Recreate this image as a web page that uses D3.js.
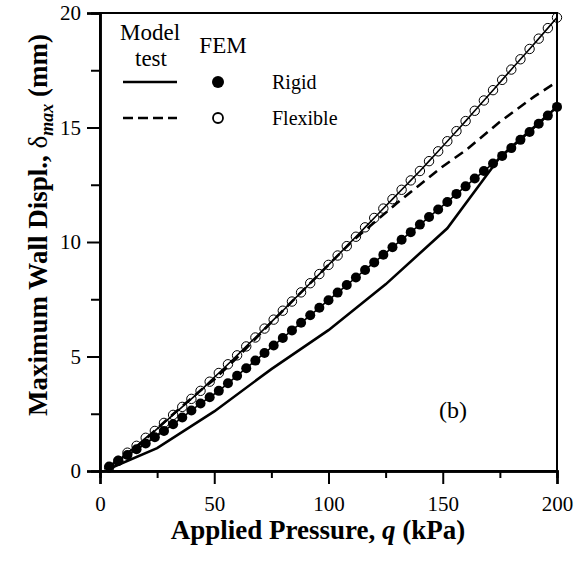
<!DOCTYPE html>
<html><head><meta charset="utf-8">
<script src="https://cdn.jsdelivr.net/npm/d3@7"></script>
<style>body{margin:0;background:#fff}svg{display:block}text{font-family:"Liberation Serif","Times New Roman",serif;fill:#000}</style>
</head><body><svg id="c" width="578" height="562"></svg>
<script>
// FEM pressure steps (kPa)
const femQ = [4,8,12,16,20,24,28,32,36,40,44,48,52,56,60,64,68,72,76,80,84,88,92,96,100,104,108,112,116,120,124,128,132,136,140,144,148,152,156,160,164,168,172,176,180,184,188,192,196,200];
const femFlexible = [0.15,0.45,0.8,1.1,1.45,1.75,2.1,2.45,2.8,3.15,3.5,3.9,4.28,4.66,5.05,5.44,5.83,6.22,6.61,7.0,7.4,7.8,8.2,8.6,9.0,9.41,9.82,10.23,10.64,11.05,11.46,11.87,12.28,12.69,13.1,13.53,13.96,14.4,14.84,15.28,15.73,16.18,16.63,17.08,17.53,17.98,18.43,18.88,19.34,19.8];
const femRigid = [0.2,0.45,0.7,0.95,1.2,1.47,1.75,2.04,2.34,2.64,2.95,3.22,3.5,3.83,4.16,4.49,4.82,5.15,5.48,5.81,6.14,6.47,6.8,7.13,7.46,7.79,8.12,8.45,8.78,9.11,9.44,9.77,10.1,10.43,10.76,11.09,11.42,11.75,12.1,12.43,12.77,13.1,13.43,13.76,14.1,14.46,14.8,15.16,15.52,15.9];
// Model test
const modelRigidQ = [4,25,50,75,100,125,152,175,200];
const modelRigid  = [0.1,1.0,2.6,4.45,6.15,8.15,10.6,13.7,15.9];
const modelFlexQ = [4,15,25,35,45,50,60,75,100,110,120,130,140,150,160,175,190,200];
const modelFlex  = [0.2,0.95,1.85,2.75,3.6,4.0,4.95,6.5,9.0,10.0,10.85,11.7,12.5,13.3,14.0,15.25,16.35,17.0];
const xMajor = [0,50,100,150,200];
const xMinor = [25,75,125,175];
const yMajor = [0,5,10,15,20];
const yMinor = [2.5,7.5,12.5,17.5];

const svg = d3.select("#c");
const x = d3.scaleLinear().domain([0,200]).range([100,557]);
const y = d3.scaleLinear().domain([0,20]).range([471,13]);

// frame
svg.append("rect").attr("x",100).attr("y",13).attr("width",457).attr("height",458)
  .attr("fill","none").attr("stroke","#000").attr("stroke-width",2);

// x axis
const gx = svg.append("g").attr("transform","translate(0,471)");
gx.call(d3.axisBottom(x).tickValues(xMajor).tickSize(13).tickPadding(12).tickFormat(d3.format("d")));
gx.append("g").call(d3.axisBottom(x).tickValues(xMinor).tickSize(7).tickFormat(""));
// y axis
const gy = svg.append("g").attr("transform","translate(100,0)");
gy.call(d3.axisLeft(y).tickValues(yMajor).tickSize(13).tickPadding(6).tickFormat(d3.format("d")));
gy.append("g").call(d3.axisLeft(y).tickValues(yMinor).tickSize(9).tickFormat(""));
svg.selectAll(".domain").attr("stroke","#000").attr("stroke-width",2.5);
svg.selectAll(".tick line").attr("stroke","#000").attr("stroke-width",2);
svg.selectAll(".tick text").style("font-family","Liberation Serif").style("font-size","21px");

// lines
const line = d3.line().x(d=>x(d[0])).y(d=>y(d[1]));
const zip = (a,b)=>a.map((v,i)=>[v,b[i]]);
svg.append("path").datum(zip(femQ,femFlexible)).attr("d",line).attr("fill","none").attr("stroke","#000").attr("stroke-width",1.6);
svg.append("path").datum(zip(femQ,femRigid)).attr("d",line).attr("fill","none").attr("stroke","#000").attr("stroke-width",1.6);
svg.append("path").datum(zip(modelRigidQ,modelRigid)).attr("d",line).attr("fill","none").attr("stroke","#000").attr("stroke-width",2.6);
svg.append("path").datum(zip(modelFlexQ,modelFlex)).attr("d",line).attr("fill","none").attr("stroke","#000").attr("stroke-width",2.6).attr("stroke-dasharray","10,6");

// markers
svg.append("g").selectAll("circle").data(zip(femQ,femFlexible)).join("circle")
  .attr("cx",d=>x(d[0])).attr("cy",d=>y(d[1])).attr("r",4.7).attr("fill","none").attr("stroke","#000").attr("stroke-width",1);
svg.append("g").selectAll("circle").data(zip(femQ,femRigid)).join("circle")
  .attr("cx",d=>x(d[0])).attr("cy",d=>y(d[1])).attr("r",5).attr("fill","#000");

// legend
const lg = svg.append("g");
lg.append("text").attr("x",150).attr("y",40).attr("text-anchor","middle").style("font-size","23px").text("Model");
lg.append("text").attr("x",151).attr("y",66).attr("text-anchor","middle").style("font-size","23px").text("test");
lg.append("text").attr("x",223).attr("y",53).attr("text-anchor","middle").style("font-size","23px").text("FEM");
lg.append("line").attr("x1",123).attr("x2",177).attr("y1",82).attr("y2",82).attr("stroke","#000").attr("stroke-width",2.6);
lg.append("line").attr("x1",123).attr("x2",177).attr("y1",118).attr("y2",118).attr("stroke","#000").attr("stroke-width",2.6).attr("stroke-dasharray","10,5");
lg.append("circle").attr("cx",218).attr("cy",82).attr("r",6).attr("fill","#000");
lg.append("circle").attr("cx",218).attr("cy",118).attr("r",5).attr("fill","none").attr("stroke","#000").attr("stroke-width",1.8);
lg.append("text").attr("x",272).attr("y",89).style("font-size","20px").text("Rigid");
lg.append("text").attr("x",272).attr("y",125).style("font-size","20px").text("Flexible");

// panel label
svg.append("text").attr("x",453).attr("y",418).attr("text-anchor","middle").style("font-size","24px").text("(b)");

// axis titles
const xt = svg.append("text").attr("x",318).attr("y",539).attr("text-anchor","middle").style("font-size","27px").style("font-weight","bold");
xt.append("tspan").text("Applied Pressure, ");
xt.append("tspan").style("font-style","italic").text("q");
xt.append("tspan").text(" (kPa)");
const yt = svg.append("text").attr("transform","translate(47,225) rotate(-90)").attr("text-anchor","middle").style("font-size","27px").style("font-weight","bold");
yt.append("tspan").text("Maximum Wall Displ., ");
yt.append("tspan").style("font-weight","normal").text("δ");
yt.append("tspan").style("font-style","italic").style("font-size","18px").attr("dy",6).text("max");
yt.append("tspan").attr("dy",-6).text(" (mm)");
</script></body></html>
